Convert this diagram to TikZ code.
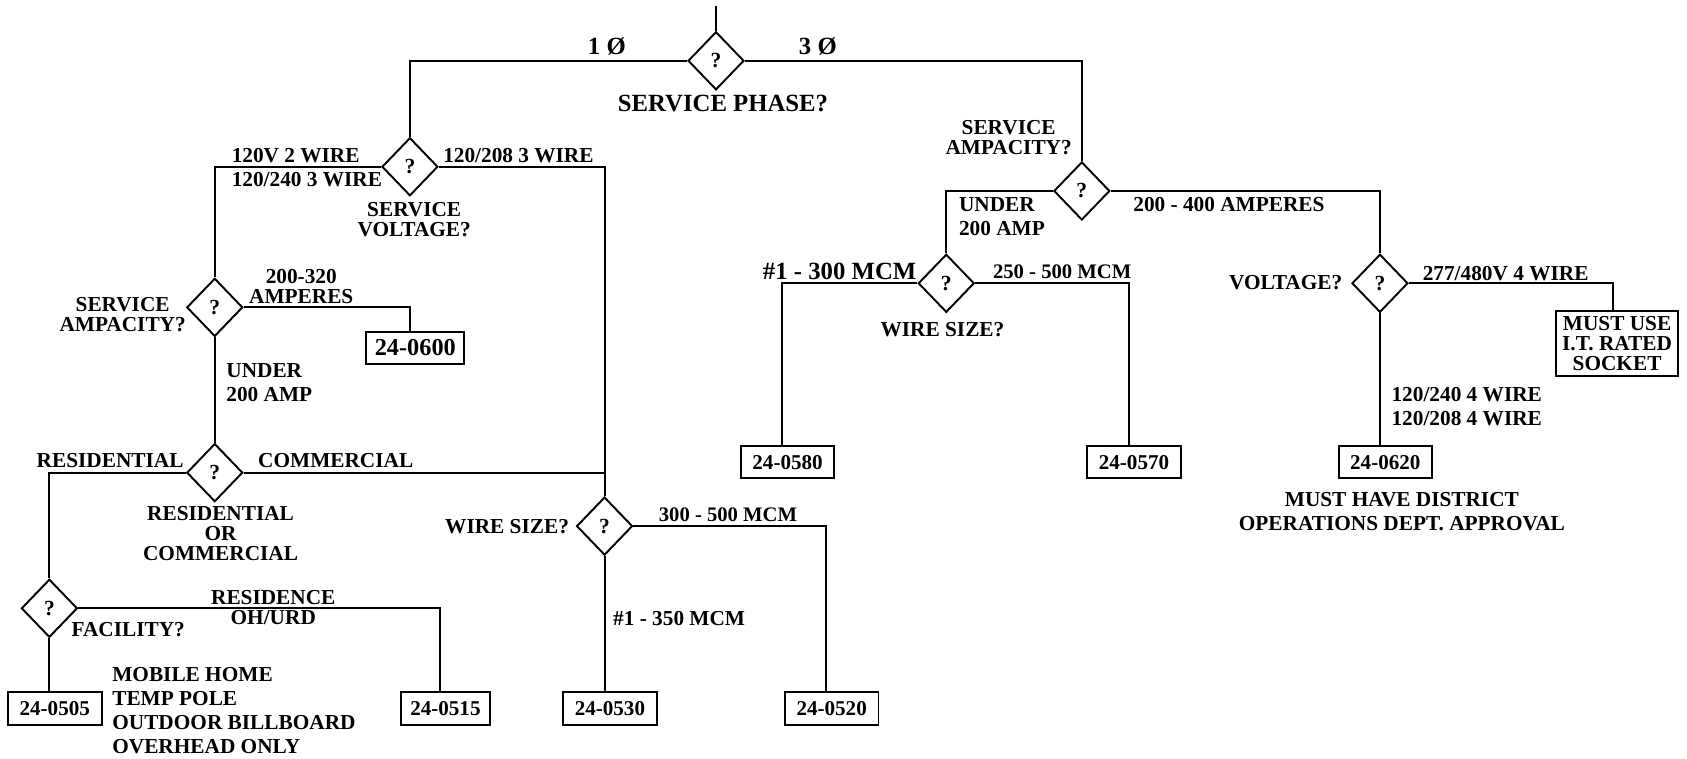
\documentclass[tikz,border=0pt]{standalone}
\usepackage{fontspec}
\setmainfont{Liberation Serif}
\usepackage{tikz}
\usetikzlibrary{shapes.geometric, positioning}
\tikzstyle{decision} = [diamond, draw, line width=0.9pt, minimum width=26pt, minimum height=27pt, inner sep=0pt, font=\bfseries\fontsize{10}{10}\selectfont]
\tikzstyle{code} = [rectangle, draw, line width=0.9pt, minimum width=43.5pt, minimum height=15pt, inner sep=1pt, font=\bfseries\fontsize{9.8}{10}\selectfont]
\tikzstyle{lbl} = [inner sep=0pt, align=center, font=\bfseries\fontsize{9.9}{11.2}\selectfont]
\tikzstyle{lbltight} = [lbl, font=\bfseries\fontsize{9.9}{9.3}\selectfont]
\tikzstyle{lblsmall} = [lbl, font=\bfseries\fontsize{9.6}{10}\selectfont]
\tikzstyle{lblbig} = [lbl, font=\bfseries\fontsize{11.5}{12}\selectfont]
\tikzstyle{link} = [line width=0.9pt]

\begin{document}
\begin{tikzpicture}[node distance=50pt]
    \useasboundingbox (0,0) rectangle (784pt,-352.5pt);
    % decisions
    \node (phase) [decision] at (332.75pt,-28.25pt) {?};
    \coordinate (feed) at ([yshift=25.25pt]phase.center);
    \node (volt) [decision, below of=phase, xshift=-142.25pt, yshift=0.75pt] {?};
    \node (amp1) [decision, below of=volt, xshift=-90.7pt, yshift=-15.35pt] {?};
    \node (resc) [decision, below of=amp1, yshift=-26.8pt] {?};
    \node (fac) [decision, below of=resc, xshift=-76.85pt, yshift=-13.05pt] {?};
    \node (wire1) [decision, below of=volt, xshift=90.45pt, yshift=-117pt] {?};
    \node (amp3) [decision, below of=phase, xshift=170pt, yshift=-10.5pt] {?};
    \node (wire3) [decision, below of=amp3, xshift=-63pt, yshift=7.1pt] {?};
    \node (volt3) [decision, below of=amp3, xshift=138.55pt, yshift=7.1pt] {?};
    % end boxes
    \node (b0600) [code, below of=amp1, xshift=93.2pt, yshift=31.2pt, minimum width=45.5pt, font=\bfseries\fontsize{11.3}{12}\selectfont] {24-0600};
    \node (b0505) [code, below of=fac, xshift=2.5pt, yshift=3.45pt] {24-0505};
    \node (b0515) [code, below of=fac, xshift=184.05pt, yshift=3.45pt, minimum width=41pt] {24-0515};
    \node (b0530) [code, below of=wire1, xshift=2.5pt, yshift=-34.75pt] {24-0530};
    \node (b0520) [code, below of=wire1, xshift=105.55pt, yshift=-34.75pt] {24-0520};
    \node (b0580) [code, below of=wire3, xshift=-73.75pt, yshift=-33.1pt] {24-0580};
    \node (b0570) [code, below of=wire3, xshift=87.25pt, yshift=-33.1pt] {24-0570};
    \node (b0620) [code, below of=volt3, xshift=2.5pt, yshift=-33.1pt] {24-0620};
    \node (bsock) [code, below of=volt3, xshift=110.2pt, yshift=22pt, align=center, minimum width=57pt, minimum height=30pt, font=\bfseries\fontsize{9.9}{9.4}\selectfont] {MUST USE\\I.T. RATED\\SOCKET};

    \draw [link] (feed) -- (phase.north);
    \draw [link] (phase.west) -| (volt.north);
    \draw [link] (phase.east) -| (amp3.north);
    \draw [link] (volt.west) -| (amp1.north);
    \draw [link] (volt.east) -| (wire1.north);
    \draw [link] (amp1.east) -| ([xshift=-2.5pt]b0600.north);
    \draw [link] (amp1.south) -- (resc.north);
    \draw [link] (resc.east) -- (resc.east -| wire1.north);
    \draw [link] (resc.west) -| (fac.north);
    \draw [link] (fac.south) -- ([xshift=-2.5pt]b0505.north);
    \draw [link] (fac.east) -| ([xshift=-2.5pt]b0515.north);
    \draw [link] (wire1.south) -- ([xshift=-2.5pt]b0530.north);
    \draw [link] (wire1.east) -| ([xshift=-2.5pt]b0520.north);
    \draw [link] (amp3.west) -| (wire3.north);
    \draw [link] (amp3.east) -| (volt3.north);
    \draw [link] (wire3.west) -| ([xshift=-2.5pt]b0580.north);
    \draw [link] (wire3.east) -| ([xshift=-2.5pt]b0570.north);
    \draw [link] (volt3.south) -- ([xshift=-2.5pt]b0620.north);
    \draw [link] (volt3.east) -| ([xshift=-2pt]bsock.north);

    % labels
    \node (t1ph) [lblbig, anchor=east, xshift=-41.75pt, yshift=6.55pt] at (phase) {1 Ø};
    \node (t3ph) [lblbig, anchor=west, xshift=38.35pt, yshift=6.55pt] at (phase) {3 Ø};
    \node (tphase) [lblbig, xshift=3.25pt, yshift=-20pt] at (phase) {SERVICE PHASE?};

    \node (tvolt12) [lbl, anchor=west, align=left, xshift=-83pt, yshift=-0.5pt] at (volt) {120V 2 WIRE\\120/240 3 WIRE};
    \node (tvolt3w) [lbl, anchor=west, xshift=15.3pt, yshift=5.15pt] at (volt) {120/208 3 WIRE};
    \node (tvolt) [lbltight, xshift=2pt, yshift=-24.75pt] at (volt) {SERVICE\\VOLTAGE?};

    \node (tamp1) [lbltight, xshift=-42.8pt, yshift=-3.15pt] at (amp1) {SERVICE\\AMPACITY?};
    \node (tamp1hi) [lbltight, xshift=40.2pt, yshift=9.6pt] at (amp1) {200-320\\AMPERES};
    \node (tamp1lo) [lbl, anchor=west, align=left, xshift=5.2pt, yshift=-34.9pt] at (amp1) {UNDER\\200 AMP};

    \node (tres) [lbl, anchor=east, xshift=-14.3pt, yshift=5.4pt] at (resc) {RESIDENTIAL};
    \node (tcom) [lbl, anchor=west, xshift=20pt, yshift=5.4pt] at (resc) {COMMERCIAL};
    \node (tresc) [lbltight, xshift=2.7pt, yshift=-28.1pt] at (resc) {RESIDENTIAL\\OR\\COMMERCIAL};

    \node (tresd) [lbltight, xshift=104.05pt, yshift=0.2pt] at (fac) {RESIDENCE\\OH/URD};
    \node (tfac) [lbl, anchor=west, xshift=10.15pt, yshift=-10.05pt] at (fac) {FACILITY?};
    \node (tfaclist) [lbl, anchor=west, align=left, xshift=29.05pt, yshift=-47.65pt] at (fac) {MOBILE HOME\\TEMP POLE\\OUTDOOR BILLBOARD\\OVERHEAD ONLY};

    \node (twire1) [lbl, anchor=east, xshift=-16.35pt, yshift=-0.25pt] at (wire1) {WIRE SIZE?};
    \node (twire1hi) [lblsmall, anchor=west, xshift=25.05pt, yshift=5.15pt] at (wire1) {300 - 500 MCM};
    \node (twire1lo) [lbl, anchor=west, xshift=3.8pt, yshift=-42.85pt] at (wire1) {\#1 - 350 MCM};

    \node (tamp3) [lbltight, xshift=-34pt, yshift=24.75pt] at (amp3) {SERVICE\\AMPACITY?};
    \node (tamp3lo) [lbl, anchor=west, align=left, xshift=-57.25pt, yshift=-11.75pt] at (amp3) {UNDER\\200 AMP};
    \node (tamp3hi) [lbl, anchor=west, xshift=23.75pt, yshift=-6.5pt] at (amp3) {200 - 400 AMPERES};

    \node (twire3lo) [lblbig, anchor=east, xshift=-13.75pt, yshift=5.4pt] at (wire3) {\#1 - 300 MCM};
    \node (twire3hi) [lblsmall, anchor=west, xshift=21.55pt, yshift=5.4pt] at (wire3) {250 - 500 MCM};
    \node (twire3) [lbl, xshift=-1.75pt, yshift=-21.7pt] at (wire3) {WIRE SIZE?};

    \node (tvolt3) [lbl, anchor=east, xshift=-17.3pt, yshift=0.15pt] at (volt3) {VOLTAGE?};
    \node (tvolt3hi) [lbl, anchor=west, xshift=19.7pt, yshift=4.65pt] at (volt3) {277/480V 4 WIRE};
    \node (tvolt3lo) [lbl, anchor=west, align=left, xshift=5.2pt, yshift=-57.35pt] at (volt3) {120/240 4 WIRE\\120/208 4 WIRE};
    \node (tb0620) [lbl, xshift=7.7pt, yshift=-23pt] at (b0620) {MUST HAVE DISTRICT\\OPERATIONS DEPT. APPROVAL};
\end{tikzpicture}
\end{document}
